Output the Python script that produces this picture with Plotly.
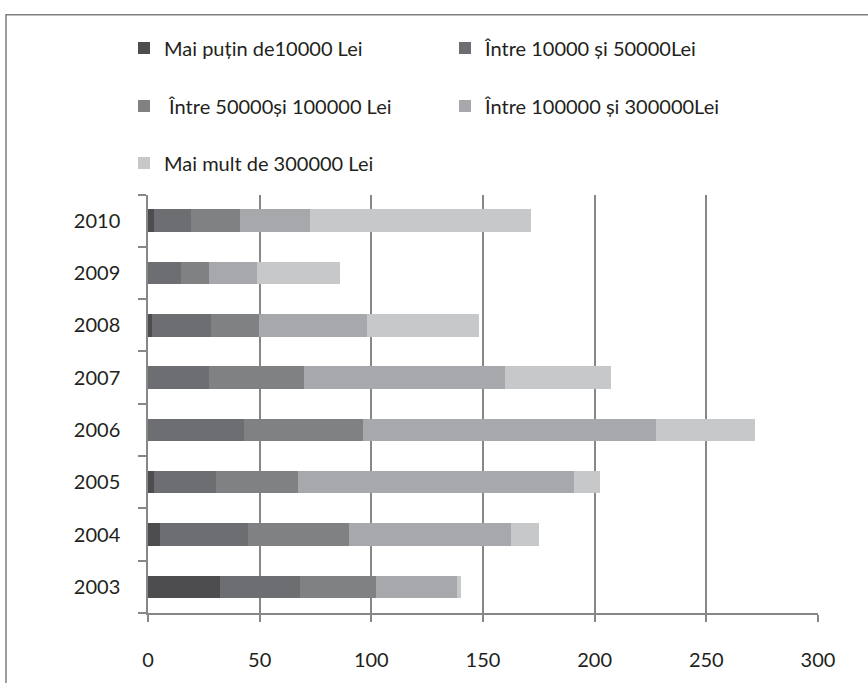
import plotly.graph_objects as go

years = ["2003", "2004", "2005", "2006", "2007", "2008", "2009", "2010"]
series_names = [
    "Mai puțin de10000 Lei",
    "Între 10000 și 50000Lei",
    " Între 50000și 100000 Lei",
    "Între 100000 și 300000Lei",
    "Mai mult de 300000 Lei",
]
s_lt10k = [32.2, 5.4, 2.7, 0.0, 0.0, 1.8, 0.0, 2.7]
s_10k_50k = [35.9, 39.4, 27.7, 43.0, 27.3, 26.4, 14.8, 16.6]
s_50k_100k = [34.0, 45.2, 36.8, 53.3, 42.6, 21.5, 12.5, 21.9]
s_100k_300k = [36.3, 72.5, 123.5, 131.2, 90.0, 48.4, 21.5, 31.3]
s_gt300k = [1.8, 12.6, 11.7, 44.3, 47.4, 50.1, 37.2, 99.0]
x_ticks = [0, 50, 100, 150, 200, 250, 300]

colors = ["#4d4d4f", "#6d6e71", "#808183", "#a7a8ab", "#c7c8ca"]
legend_ids = ["legend", "legend", "legend2", "legend2", "legend3"]
all_series = [s_lt10k, s_10k_50k, s_50k_100k, s_100k_300k, s_gt300k]

FONT = "Lato"
TXT = "#231f20"
GRID = "#878787"

fig = go.Figure()
for name, vals, col, lg in zip(series_names, all_series, colors, legend_ids):
    fig.add_trace(go.Bar(
        y=years, x=vals, name=name, orientation="h",
        marker=dict(color=col, line=dict(width=0)),
        legend=lg,
    ))

W, H = 868, 683
L, R, T, B = 148, 50, 193, 64

def leg(ypx):
    return dict(
        orientation="h", xref="container", yref="container",
        x=124 / W, y=1 - ypx / H, xanchor="left", yanchor="middle",
        entrywidth=276, font=dict(family=FONT, size=20, color=TXT),
        bgcolor="rgba(0,0,0,0)", traceorder="normal",
    )

fig.update_layout(
    width=W, height=H,
    margin=dict(l=L, r=R, t=T, b=B),
    paper_bgcolor="white", plot_bgcolor="white",
    barmode="stack", bargap=0.57,
    font=dict(family=FONT, size=20, color=TXT),
    legend=leg(48), legend2=leg(106), legend3=leg(163),
    xaxis=dict(
        range=[0, 300], tickvals=x_ticks, ticktext=[str(v) for v in x_ticks],
        showgrid=True, gridcolor=GRID, gridwidth=1.5,
        showline=True, linecolor=GRID, linewidth=1.5,
        ticks="outside", ticklen=7, tickcolor=GRID, tickwidth=1.5,
        ticklabelstandoff=21, zeroline=False,
        tickfont=dict(family=FONT, size=20, color=TXT),
    ),
    yaxis=dict(
        categoryorder="array", categoryarray=years,
        showgrid=False, showline=True, linecolor=GRID, linewidth=1.5,
        ticks="outside", ticklen=8, tickcolor=GRID, tickwidth=1.5,
        tickson="boundaries", ticklabelstandoff=22,
        tickfont=dict(family=FONT, size=20, color=TXT),
    ),
)

# outer frame
pw = W - L - R
ph = H - T - B
fig.add_shape(type="rect", xref="paper", yref="paper",
              x0=(6 - L) / pw, x1=(W + 20 - L) / pw,
              y0=-(H + 20 - (T + ph)) / ph, y1=(T + ph - 10) / ph,
              line=dict(color="#7f7f7f", width=1.5), fillcolor="rgba(0,0,0,0)",
              layer="below")

fig.write_html("out.html")
